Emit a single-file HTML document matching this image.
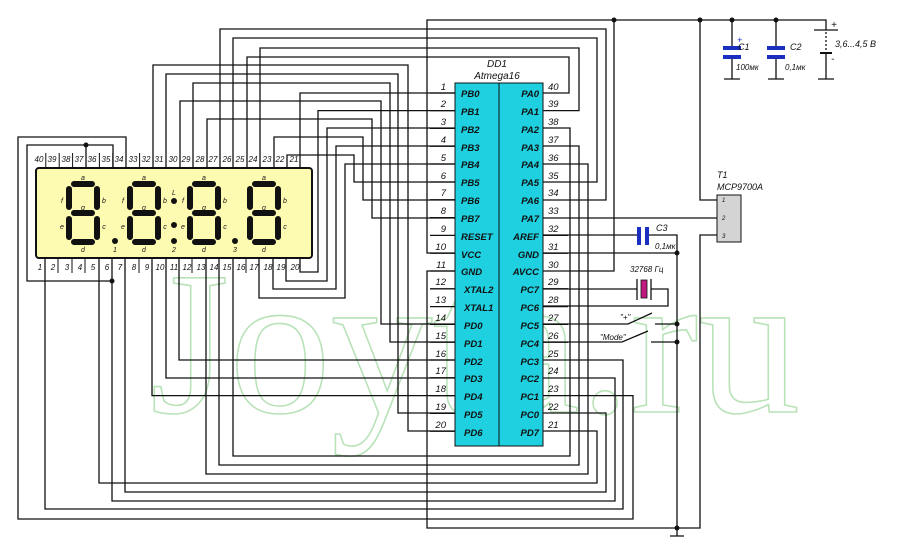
<!DOCTYPE html>
<html><head><meta charset="utf-8"><style>
html,body{margin:0;padding:0;background:#fff;}
svg{display:block;}
text{font-family:"Liberation Sans",sans-serif;font-style:italic;fill:#111;}
</style></head><body>
<svg width="900" height="555" viewBox="0 0 900 555" xmlns="http://www.w3.org/2000/svg">
<!-- watermark -->
<text x="150" y="412" font-size="205" textLength="650" lengthAdjust="spacingAndGlyphs" style="font-family:'Liberation Serif',serif;font-style:normal;fill:none;stroke:#b8e2b8;stroke-width:1.6">Joyta.ru</text>

<!-- chip -->
<rect x="455" y="83" width="88" height="363" fill="#1ed0e0" stroke="#111" stroke-width="1"/>
<line x1="499" y1="83" x2="499" y2="446" stroke="#111" stroke-width="1"/>
<text x="497" y="67" font-size="10" text-anchor="middle">DD1</text>
<text x="497" y="79" font-size="10" text-anchor="middle">Atmega16</text>

<g fill="none" stroke="#111" stroke-width="1.3">
<!-- left stubs -->
<path d="M430 235.4H455M430 288.8H455M430 306.6H455"/>
<!-- top display pins -->
<polyline points="300,168 300,93 455,93"/>
<polyline points="287,168 287,155 354,155 354,182 455,182"/>
<polyline points="274,168 274,137 363,137 363,200 455,200"/>
<polyline points="260,168 260,48 579,48 579,110.6 543,110.6"/>
<polyline points="247,168 247,57 569,57 569,93 543,93"/>
<polyline points="233,168 233,38 597,38 597,182 543,182"/>
<polyline points="220,168 220,29 606,29 606,200 543,200"/>
<polyline points="207,168 207,119 372,119 372,218 455,218"/>
<polyline points="193,168 193,83 390,83 390,342 455,342"/>
<polyline points="180,168 180,101 381,101 381,324 455,324"/>
<polyline points="166,168 166,74 398,74 398,413 455,413"/>
<polyline points="153,168 153,65 408,65 408,431 455,431"/>
<polyline points="126,168 126,137 18,137 18,519 633,519 633,395.6 543,395.6"/>
<polyline points="113,168 113,145 27,145 27,281 112,281"/>
<polyline points="86,168 86,145"/>
<!-- bottom display pins -->
<polyline points="112,258 112,501 615,501 615,378 543,378"/>
<polyline points="45,258 45,509 623,509 623,360 543,360"/>
<polyline points="99,258 99,483 597,483 597,431 543,431"/>
<polyline points="125,258 125,492 606,492 606,413 543,413"/>
<polyline points="206,258 206,474 588,474 588,164 543,164"/>
<polyline points="219,258 219,465 579,465 579,146 543,146"/>
<polyline points="233,258 233,456 570,456 570,128 543,128"/>
<polyline points="152,258 152,395.6 455,395.6"/>
<polyline points="166,258 166,378 455,378"/>
<polyline points="179,258 179,360 455,360"/>
<polyline points="259,258 259,298 345,298 345,164 455,164"/>
<polyline points="273,258 273,289 336,289 336,146 455,146"/>
<polyline points="286,258 286,281 327,281 327,128 455,128"/>
<polyline points="300,258 300,272 318,272 318,110.6 455,110.6"/>
<!-- power -->
<polyline points="455,253 427,253 427,20 826,20 826,30"/>
<polyline points="455,271 427,271 427,528 700,528 700,235 717,235"/>
<polyline points="543,271 614,271 614,20"/>
<polyline points="543,218 717,218"/>
<polyline points="543,235 638,235"/>
<polyline points="648,235 677,235 677,528"/>
<polyline points="543,253 677,253"/>
<polyline points="717,200 700,200 700,20"/>
<polyline points="543,289 637,289"/>
<polyline points="651,289 668,289 668,306 543,306"/>
<polyline points="543,324 628,324 652,313"/>
<polyline points="655,324 677,324"/>
<polyline points="543,342 622,342 648,331"/>
<polyline points="651,342 677,342"/>
<path d="M670 536H684M677 528V536"/>
<!-- C1 C2 -->
<path d="M732 20V48M732 57V79M724 79H740M776 20V48M776 57V79M768 79H784"/>
<!-- battery -->
<path d="M814 30H838M826 53V79M818 79H834"/>
<path d="M826 32V53" stroke-dasharray="2,2"/>
<path d="M820 53H832" stroke-width="2"/>
</g>
<!-- right pin stubs -->
<g stroke="#111" stroke-width="1.3">
<path d="M430 93H455M430 110.6H455M430 128.4H455M430 146.2H455M430 164H455M430 182H455M430 199.8H455M430 217.6H455M430 253.2H455M430 271H455M430 324.4H455M430 342.2H455M430 360H455M430 377.8H455M430 395.6H455M430 413.4H455M430 431.2H455"/>
<path d="M543 235.4H568M543 253.2H568M543 288.8H568M543 306.6H568M543 324.4H568M543 342.2H568"/>
</g>
<!-- capacitors -->
<g fill="#1a2fc0">
<rect x="723" y="46" width="18" height="4"/><rect x="723" y="55" width="18" height="4"/>
<rect x="767" y="46" width="18" height="4"/><rect x="767" y="55" width="18" height="4"/>
<rect x="637" y="227" width="4" height="18"/><rect x="645" y="227" width="4" height="18"/>
</g>
<!-- crystal -->
<path d="M637 279V300M651 279V300" stroke="#111" stroke-width="1.3"/>
<rect x="641" y="280" width="6" height="18" fill="#c01a80" stroke="#111" stroke-width="0.8"/>
<!-- T1 -->
<rect x="717" y="195" width="24" height="47" fill="#d4d4d4" stroke="#111" stroke-width="1"/>
<g font-size="6" ><text x="722" y="202">1</text><text x="722" y="220">2</text><text x="722" y="238">3</text></g>
<!-- junctions -->
<g fill="#111">
<circle cx="614" cy="20" r="2.5"/><circle cx="700" cy="20" r="2.5"/><circle cx="732" cy="20" r="2.5"/><circle cx="776" cy="20" r="2.5"/>
<circle cx="677" cy="253" r="2.5"/><circle cx="677" cy="324" r="2.5"/><circle cx="677" cy="342" r="2.5"/><circle cx="677" cy="528" r="2.5"/>
<circle cx="112" cy="281" r="2.5"/><circle cx="86" cy="145" r="2.5"/>
</g>
<!-- labels -->
<g font-size="9">
<text x="738" y="50">C1</text><text x="736" y="70" font-size="8">100мк</text>
<text x="790" y="50">C2</text><text x="785" y="70" font-size="8">0,1мк</text>
<text x="835" y="47">3,6...4,5 В</text>
<text x="831" y="28" font-size="10">+</text><text x="831" y="62" font-size="10">-</text>
<text x="737" y="43" font-size="9" style="fill:#1a2fc0">+</text>
<text x="656" y="231">C3</text><text x="655" y="249" font-size="8">0,1мк</text>
<text x="630" y="272" font-size="8">32768 Гц</text>
<text x="620" y="320" font-size="8">"+"</text>
<text x="600" y="340" font-size="8">"Mode"</text>
<text x="717" y="178">T1</text><text x="717" y="190">MCP9700A</text>
</g>
<!-- chip pin labels -->
<g font-size="9.5" font-weight="bold" style="fill:#123">
<text x="461" y="97">PB0</text><text x="461" y="115">PB1</text><text x="461" y="133">PB2</text><text x="461" y="151">PB3</text><text x="461" y="168">PB4</text><text x="461" y="186">PB5</text><text x="461" y="204">PB6</text><text x="461" y="222">PB7</text><text x="461" y="240">RESET</text><text x="461" y="258">VCC</text><text x="461" y="275">GND</text><text x="464" y="293">XTAL2</text><text x="464" y="311">XTAL1</text><text x="464" y="329">PD0</text><text x="464" y="347">PD1</text><text x="464" y="365">PD2</text><text x="464" y="382">PD3</text><text x="464" y="400">PD4</text><text x="464" y="418">PD5</text><text x="464" y="436">PD6</text>
</g>
<g font-size="9.5" font-weight="bold" style="fill:#123" text-anchor="end">
<text x="539" y="97">PA0</text><text x="539" y="115">PA1</text><text x="539" y="133">PA2</text><text x="539" y="151">PA3</text><text x="539" y="168">PA4</text><text x="539" y="186">PA5</text><text x="539" y="204">PA6</text><text x="539" y="222">PA7</text><text x="539" y="240">AREF</text><text x="539" y="258">GND</text><text x="539" y="275">AVCC</text><text x="539" y="293">PC7</text><text x="539" y="311">PC6</text><text x="539" y="329">PC5</text><text x="539" y="347">PC4</text><text x="539" y="365">PC3</text><text x="539" y="382">PC2</text><text x="539" y="400">PC1</text><text x="539" y="418">PC0</text><text x="539" y="436">PD7</text>
</g>
<g font-size="9.5" text-anchor="end">
<text x="446" y="90">1</text><text x="446" y="107">2</text><text x="446" y="125">3</text><text x="446" y="143">4</text><text x="446" y="161">5</text><text x="446" y="179">6</text><text x="446" y="196">7</text><text x="446" y="214">8</text><text x="446" y="232">9</text><text x="446" y="250">10</text><text x="446" y="268">11</text><text x="446" y="285">12</text><text x="446" y="303">13</text><text x="446" y="321">14</text><text x="446" y="339">15</text><text x="446" y="357">16</text><text x="446" y="374">17</text><text x="446" y="392">18</text><text x="446" y="410">19</text><text x="446" y="428">20</text>
</g>
<g font-size="9.5">
<text x="548" y="90">40</text><text x="548" y="107">39</text><text x="548" y="125">38</text><text x="548" y="143">37</text><text x="548" y="161">36</text><text x="548" y="179">35</text><text x="548" y="196">34</text><text x="548" y="214">33</text><text x="548" y="232">32</text><text x="548" y="250">31</text><text x="548" y="268">30</text><text x="548" y="285">29</text><text x="548" y="303">28</text><text x="548" y="321">27</text><text x="548" y="339">26</text><text x="548" y="357">25</text><text x="548" y="374">24</text><text x="548" y="392">23</text><text x="548" y="410">22</text><text x="548" y="428">21</text>
</g>

<!-- display -->
<rect x="36" y="168" width="276" height="90" rx="3" fill="#fdfbb2" stroke="#111" stroke-width="2"/>
<g id="pins" font-size="8" text-anchor="middle">
<text x="39" y="162">40</text><text x="52" y="162">39</text><text x="66" y="162">38</text><text x="79" y="162">37</text><text x="92" y="162">36</text><text x="106" y="162">35</text><text x="119" y="162">34</text><text x="133" y="162">33</text><text x="146" y="162">32</text><text x="159" y="162">31</text><text x="173" y="162">30</text><text x="186" y="162">29</text><text x="200" y="162">28</text><text x="213" y="162">27</text><text x="227" y="162">26</text><text x="240" y="162">25</text><text x="253" y="162">24</text><text x="267" y="162">23</text><text x="280" y="162">22</text><text x="294" y="162">21</text>
<text x="40" y="270">1</text><text x="53" y="270">2</text><text x="67" y="270">3</text><text x="80" y="270">4</text><text x="93" y="270">5</text><text x="107" y="270">6</text><text x="120" y="270">7</text><text x="134" y="270">8</text><text x="147" y="270">9</text><text x="160" y="270">10</text><text x="174" y="270">11</text><text x="187" y="270">12</text><text x="201" y="270">13</text><text x="214" y="270">14</text><text x="227" y="270">15</text><text x="241" y="270">16</text><text x="254" y="270">17</text><text x="268" y="270">18</text><text x="281" y="270">19</text><text x="295" y="270">20</text>
</g>
<g stroke="#111" stroke-width="1">
<path d="M45.8 153V168M59.2 153V168M72.6 153V168M86 153V168M99.4 153V168M112.8 153V168M126 153V168M139.6 153V168"/>
<path d="M58 258V273M72 258V273M85 258V273M139 258V273M192 258V273M246 258V273"/>
</g>
<g stroke="#111" stroke-width="6" stroke-linecap="round" fill="none">
<path d="M74 184H92M97 189V207M97 219V237M74 242H92M69 219V237M69 189V207M74 213H92"/>
<path d="M135 184H153M158 189V207M158 219V237M135 242H153M130 219V237M130 189V207M135 213H153"/>
<path d="M195 184H213M218 189V207M218 219V237M195 242H213M190 219V237M190 189V207M195 213H213"/>
<path d="M255 184H273M278 189V207M278 219V237M255 242H273M250 219V237M250 189V207M255 213H273"/>
</g>
<g fill="#111">
<circle cx="115" cy="241" r="3"/><circle cx="174" cy="201" r="3"/><circle cx="174" cy="225" r="3"/><circle cx="174" cy="241" r="3"/><circle cx="235" cy="241" r="3"/>
</g>
<g font-size="7" text-anchor="middle" style="font-style:normal">
<text x="83" y="180">a</text><text x="104" y="203">b</text><text x="62" y="203">f</text><text x="83" y="210">g</text><text x="62" y="229">e</text><text x="104" y="229">c</text><text x="83" y="252">d</text>
<text x="144" y="180">a</text><text x="165" y="203">b</text><text x="123" y="203">f</text><text x="144" y="210">g</text><text x="123" y="229">e</text><text x="165" y="229">c</text><text x="144" y="252">d</text>
<text x="204" y="180">a</text><text x="225" y="203">b</text><text x="183" y="203">f</text><text x="204" y="210">g</text><text x="183" y="229">e</text><text x="225" y="229">c</text><text x="204" y="252">d</text>
<text x="264" y="180">a</text><text x="285" y="203">b</text><text x="264" y="210">g</text><text x="285" y="229">c</text><text x="264" y="252">d</text>
<text x="115" y="252">1</text><text x="174" y="195">L</text><text x="174" y="252">2</text><text x="235" y="252">3</text>
</g>
</svg>
</body></html>
